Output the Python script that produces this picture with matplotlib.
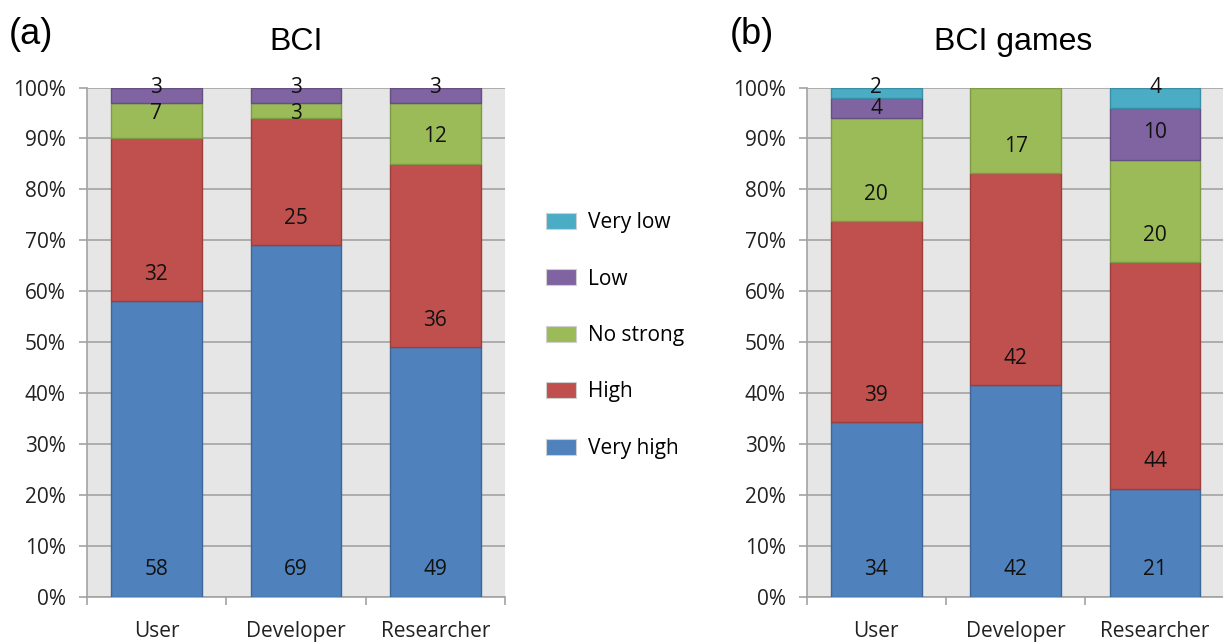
import numpy as np
import matplotlib.pyplot as plt
from matplotlib.patches import Patch

categories = ['User', 'Developer', 'Researcher']
levels = ['Very high', 'High', 'No strong', 'Low', 'Very low']

# (a) BCI
bci_very_high = [58, 69, 49]
bci_high = [32, 25, 36]
bci_no_strong = [7, 3, 12]
bci_low = [3, 3, 3]
bci_very_low = [0, 0, 0]

# (b) BCI games
games_very_high = [34, 42, 21]
games_high = [39, 42, 44]
games_no_strong = [20, 17, 20]
games_low = [4, 0, 10]
games_very_low = [2, 0, 4]

face = ['#4F81BD', '#C0504D', '#9BBB59', '#8064A2', '#4BACC6']
edge = ['#3C6798', '#9C3E3B', '#7D9A44', '#644E82', '#3A8FA6']

TICK_FONT = 'Open Sans'
TITLE_FONT = 'Liberation Sans'
GRID = '#A3A3A3'
FS = 15


def stacked_panel(ax, series):
    data = np.array(series, dtype=float)
    pct = data / data.sum(axis=0) * 100
    x = np.arange(len(categories))
    ax.set_facecolor('#E6E6E6')
    cum = np.cumsum(pct, axis=0)
    for i, row in enumerate(pct):
        keep = data[i] > 0
        ax.bar(x[keep], row[keep], 0.65, bottom=(cum[i] - row)[keep],
               color=face[i], edgecolor=edge[i], linewidth=1.0, zorder=3)

    # value labels sit just above the base of each segment
    for j in range(len(categories)):
        nonzero = [i for i in range(len(pct)) if data[i, j] > 0]
        for i in nonzero:
            top = cum[i, j]
            base = top - pct[i, j]
            y = base + 5.3
            if i == nonzero[-1]:
                y = min(y, 100)
            else:
                y = min(y, top - 2.1)
            ax.text(x[j], y, f'{int(data[i, j])}', ha='center', va='center',
                    fontsize=FS, family=TICK_FONT, color='#111111', zorder=5)

    ax.set_xlim(-0.5, len(categories) - 0.5)
    ax.set_ylim(0, 100)
    ax.set_yticks(np.arange(0, 101, 10))
    ax.set_yticklabels([f'{v}%' for v in range(0, 101, 10)], family=TICK_FONT,
                       fontsize=FS, color='#222222')
    ax.yaxis.grid(True, color=GRID, linewidth=1.2, zorder=0)
    ax.set_axisbelow(True)
    ax.tick_params(axis='y', length=6, width=1.2, color=GRID, pad=9)

    ax.set_xticks(np.arange(len(categories) + 1) - 0.5)
    ax.set_xticklabels([])
    ax.tick_params(axis='x', which='major', length=6, width=1.2, color=GRID)
    ax.set_xticks(x, minor=True)
    ax.set_xticklabels(categories, minor=True, family=TICK_FONT, fontsize=FS,
                       color='#222222')
    ax.tick_params(axis='x', which='minor', length=0, pad=17)

    for s in ['top', 'right']:
        ax.spines[s].set_visible(False)
    for s in ['left', 'bottom']:
        ax.spines[s].set_color(GRID)
        ax.spines[s].set_linewidth(1.2)


fig = plt.figure(figsize=(12.23, 6.44), dpi=100)
ax1 = fig.add_axes([0.0709, 0.0730, 0.3420, 0.7911])
ax2 = fig.add_axes([0.6596, 0.0730, 0.3418, 0.7911])

stacked_panel(ax1, [bci_very_high, bci_high, bci_no_strong, bci_low, bci_very_low])
stacked_panel(ax2, [games_very_high, games_high, games_no_strong, games_low, games_very_low])

fig.text(0.242, 0.935, 'BCI', ha='center', va='center', fontsize=23, family=TITLE_FONT)
fig.text(0.828, 0.935, 'BCI games', ha='center', va='center', fontsize=23, family=TITLE_FONT)
fig.text(0.007, 0.947, '(a)', ha='left', va='center', fontsize=26, family=TITLE_FONT)
fig.text(0.597, 0.947, '(b)', ha='left', va='center', fontsize=26, family=TITLE_FONT)

handles = [Patch(facecolor=face[i], edgecolor='#d0d0d0', linewidth=0.8)
           for i in range(len(levels) - 1, -1, -1)]
fig.legend(handles, levels[::-1], loc='center', bbox_to_anchor=(0.503, 0.479),
           frameon=False, prop={'family': TICK_FONT, 'size': FS},
           handlelength=1.45, handleheight=0.8, handletextpad=0.6,
           labelspacing=1.7)

fig.savefig('out.png', dpi=100)
